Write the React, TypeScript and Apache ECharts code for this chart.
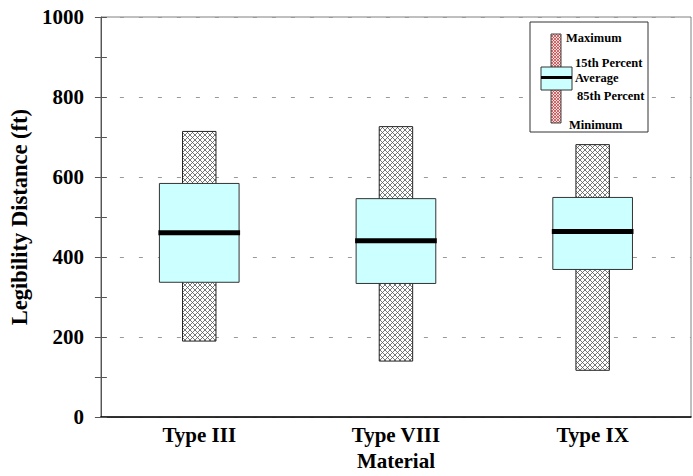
import React, { useEffect, useRef } from 'react';
import * as echarts from 'echarts';

const categories = ['Type III', 'Type VIII', 'Type IX'];
const minimum = [190, 140, 117];
const lowerPct = [337, 334, 369];
const average = [461, 441, 464];
const upperPct = [584, 546, 549];
const maximum = [714, 726, 681];
const yTicks = [0, 200, 400, 600, 800, 1000];

const FONT = '"Liberation Serif", "Times New Roman", serif';

const grayHatchSvg =
  '<svg xmlns="http://www.w3.org/2000/svg" width="5" height="5">' +
  '<rect width="5" height="5" fill="#ffffff"/>' +
  '<path d="M0 0 L5 5 M5 0 L0 5" stroke="#555555" stroke-width="0.8"/>' +
  '</svg>';
const redHatchSvg =
  '<svg xmlns="http://www.w3.org/2000/svg" width="3" height="3">' +
  '<rect width="3" height="3" fill="#f4dada"/>' +
  '<path d="M0 0 L3 3 M3 0 L0 3" stroke="#c03a3a" stroke-width="0.7"/>' +
  '</svg>';

const toUrl = (s: string) => 'data:image/svg+xml;charset=utf-8,' + encodeURIComponent(s);

export default function App() {
  const ref = useRef<HTMLDivElement>(null);
  useEffect(() => {
    if (!ref.current) return;
    const chart = echarts.init(ref.current, undefined, { renderer: 'svg' });
    const grayHatch: any = { image: toUrl(grayHatchSvg), repeat: 'repeat', imageWidth: 5, imageHeight: 5 };
    const redHatch: any = { image: toUrl(redHatchSvg), repeat: 'repeat', imageWidth: 3, imageHeight: 3 };
    const data = categories.map((c, i) => [i, minimum[i], lowerPct[i], average[i], upperPct[i], maximum[i]]);
    const labelStyle = { fontFamily: FONT, fontWeight: 'bold' as const, fontSize: 21, color: '#000' };
    const legendText = (text: string, x: number, y: number) => ({
      type: 'text',
      x,
      y,
      z: 101,
      style: { text, fill: '#000', font: 'bold 12.5px ' + FONT, textVerticalAlign: 'middle', textAlign: 'left' },
    });
    chart.setOption({
      animation: false,
      backgroundColor: '#fff',
      grid: { left: 99, right: 2, top: 17, bottom: 58, show: true, borderColor: '#808080', borderWidth: 1 },
      xAxis: {
        type: 'category',
        data: categories,
        axisLine: { lineStyle: { color: '#000', width: 1.5 } },
        axisTick: { show: false },
        axisLabel: { ...labelStyle, margin: 7 },
        name: 'Material',
        nameLocation: 'middle',
        nameGap: 32,
        nameTextStyle: labelStyle,
      },
      yAxis: [
        {
          type: 'value',
          min: 0,
          max: 1000,
          interval: 200,
          position: 'left',
          axisLine: { show: true, lineStyle: { color: '#555', width: 1 } },
          axisTick: { show: true, length: 6, inside: false, lineStyle: { color: '#555' } },
          minorTick: { show: true, splitNumber: 2, length: 6, lineStyle: { color: '#555' } },
          axisLabel: { ...labelStyle, margin: 17, formatter: (v: number) => (yTicks.includes(v) ? String(v) : '') },
          splitLine: { show: false },
          name: 'Legibility Distance (ft)',
          nameLocation: 'middle',
          nameGap: 66,
          nameTextStyle: { ...labelStyle, fontSize: 22.5 },
        },
        {
          type: 'value',
          min: 0,
          max: 1000,
          interval: 200,
          position: 'left',
          axisLine: { show: false },
          axisTick: { show: true, length: 6, inside: true, lineStyle: { color: '#555' } },
          minorTick: { show: true, splitNumber: 2, length: 6, lineStyle: { color: '#555' } },
          axisLabel: { show: false },
          splitLine: { show: true, lineStyle: { type: [4, 15], color: '#999', width: 1 } },
        },
      ],
      series: [
        {
          type: 'custom',
          yAxisIndex: 0,
          data,
          renderItem: (params: any, api: any) => {
            const idx = api.value(0);
            const band = api.size([1, 0])[0];
            const cx = api.coord([idx, 0])[0];
            const yMin = api.coord([idx, api.value(1)])[1];
            const yLow = api.coord([idx, api.value(2)])[1];
            const yAvg = api.coord([idx, api.value(3)])[1];
            const yUp = api.coord([idx, api.value(4)])[1];
            const yMax = api.coord([idx, api.value(5)])[1];
            const boxW = band * 0.405;
            const hatchW = band * 0.17;
            return {
              type: 'group',
              children: [
                {
                  type: 'rect',
                  shape: { x: cx - hatchW / 2, y: yMax, width: hatchW, height: yMin - yMax },
                  style: { fill: grayHatch, stroke: '#222', lineWidth: 1 },
                },
                {
                  type: 'rect',
                  shape: { x: cx - boxW / 2, y: yUp, width: boxW, height: yLow - yUp },
                  style: { fill: '#ccffff', stroke: '#333', lineWidth: 1 },
                },
                {
                  type: 'rect',
                  shape: { x: cx - boxW / 2 - 1, y: yAvg - 2.5, width: boxW + 2, height: 5 },
                  style: { fill: '#000' },
                },
              ],
            };
          },
        },
      ],
      graphic: [
        { type: 'rect', z: 100, shape: { x: 530, y: 22, width: 118, height: 110 }, style: { fill: '#fff', stroke: '#333', lineWidth: 1 } },
        { type: 'rect', z: 101, shape: { x: 551, y: 34, width: 10, height: 89 }, style: { fill: redHatch, stroke: '#444', lineWidth: 1 } },
        { type: 'rect', z: 102, shape: { x: 541, y: 67, width: 31, height: 23 }, style: { fill: '#ccffff', stroke: '#333', lineWidth: 1 } },
        { type: 'rect', z: 103, shape: { x: 541, y: 76, width: 31, height: 3 }, style: { fill: '#000' } },
        legendText('Maximum', 566, 38),
        legendText('15th Percent', 575, 63),
        legendText('Average', 575, 78),
        legendText('85th Percent', 577, 96),
        legendText('Minimum', 569, 125),
      ],
    });
    return () => chart.dispose();
  }, []);
  return <div ref={ref} style={{ position: 'fixed', left: 0, top: 0, width: 693, height: 476 }} />;
}
